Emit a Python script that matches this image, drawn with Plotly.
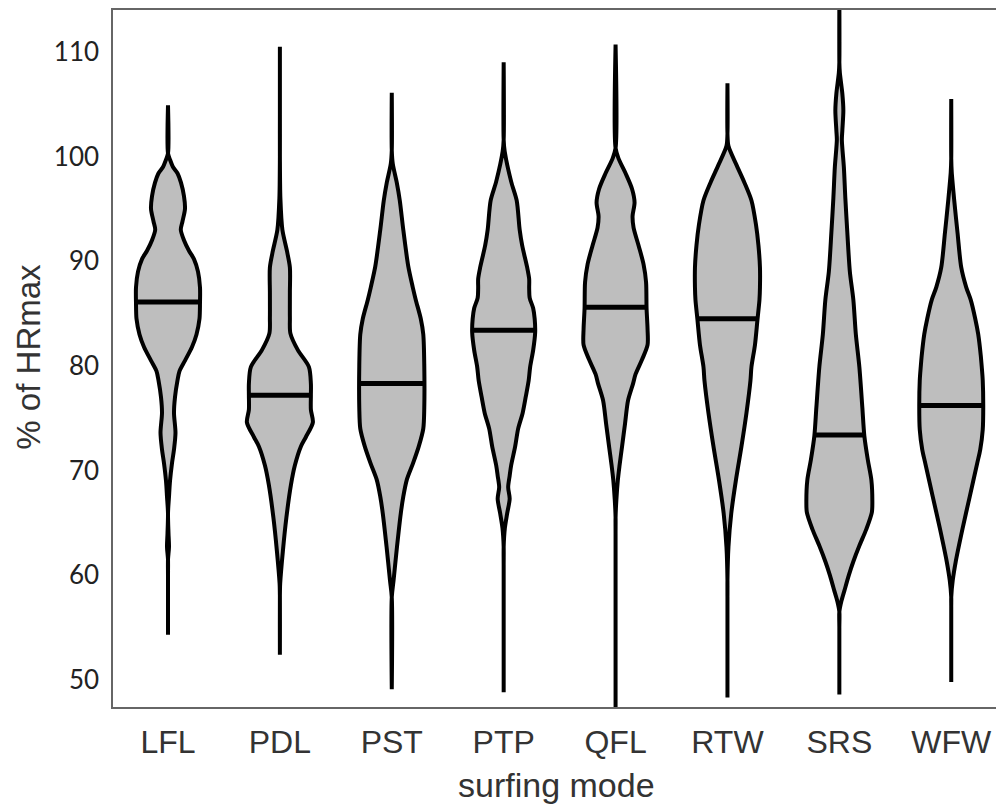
import numpy as np
import plotly.graph_objects as go

categories = ["LFL", "PDL", "PST", "PTP", "QFL", "RTW", "SRS", "WFW"]

# density profiles: levels (% of HRmax) and relative violin half-width
LFL_y = [54.3, 58.5, 60, 61.5, 62.7, 64, 65.9, 67.5, 69, 70.7, 72, 73.6, 75.5, 77, 78.6, 79.5, 80.5, 81.8, 83, 84.5, 86, 87.5, 89, 90.2, 91, 92, 93, 93.8, 95, 96.2, 97.5, 98.4, 99, 99.7, 100.3, 104.9]
LFL_d = [0, 0.5, 1, 2, 3, 2.5, 2, 3, 4, 6, 8, 9.5, 8, 9, 11.5, 13.5, 19, 26, 30.5, 33.5, 34, 34, 32, 28, 23, 18, 14.8, 16.5, 19, 18, 15, 11.5, 7, 4, 0.5, 0]

PDL_y = [52.4, 58, 59.2, 62.3, 65.5, 68.6, 70.5, 72.3, 73.2, 74.6, 75.8, 77.2, 78.3, 79.9, 81.5, 83.1, 84.6, 87, 89.4, 91, 93, 96, 100, 104, 110.5]
PDL_d = [0, 1, 2.3, 5, 8.5, 13, 17, 23, 28, 35, 33, 33, 33, 31, 20, 12.5, 12, 12, 12, 9, 4.5, 2.5, 2, 1.5, 0]

PST_y = [49.1, 57.9, 59.5, 62.7, 65.9, 67.5, 69.1, 70.7, 72.3, 74, 76, 80, 83, 84.5, 86.3, 87.5, 89.5, 93, 95.8, 97.5, 99.3, 100.6, 106.1]
PST_d = [0, 1, 3.8, 7.2, 11, 13.5, 17, 23.3, 29, 33.5, 34.5, 34.5, 33.5, 31, 26, 23, 18.5, 13.5, 10, 7, 3, 0.5, 0]

PTP_y = [48.8, 61, 62.7, 64.5, 65.9, 67.3, 68.4, 69.5, 70.5, 72.3, 74, 75.5, 77, 78.6, 79.9, 81.5, 83.2, 84.5, 85.5, 86.5, 87.4, 88.3, 89.4, 91.5, 93, 95.8, 97.6, 100.5, 101.6, 109]
PTP_d = [0, 0.5, 1.2, 3.2, 5.5, 8, 6.5, 8, 9.5, 13.5, 16.5, 21, 24, 27, 28.5, 31.5, 33.5, 33, 31.5, 28, 27.5, 27.5, 25.5, 20.5, 18, 15, 9.5, 3, 0.5, 0]

QFL_y = [46.5, 64, 65.5, 67.2, 69.1, 70.5, 72.3, 74.5, 76.7, 78.3, 79.2, 80.6, 82, 83.5, 85.5, 88, 89.7, 91.5, 93.2, 94.3, 95.6, 96.9, 98.4, 99.8, 100.8, 110.7]
QFL_d = [0, 0.5, 1.2, 2.8, 4.3, 6, 8.5, 11.5, 14.5, 19.5, 22, 28.5, 34, 34, 33, 32.5, 30, 25, 20, 19, 21, 18.5, 12, 5, 0.5, 0]

RTW_y = [48.3, 57.9, 59.5, 62.7, 65.9, 69.1, 72.3, 75.5, 78.6, 79.9, 82, 84.4, 86.3, 87.5, 89.4, 91.5, 93.5, 95.8, 97.5, 99.2, 101, 102.2, 107]
RTW_d = [0, 0.5, 1, 3, 5.8, 10.5, 16, 21, 25, 26, 29.5, 32, 34, 34.5, 34.5, 33, 30.5, 26, 19, 11, 3, 0.5, 0]

SRS_y = [48.6, 55, 56.5, 57.5, 58.5, 60, 61.3, 62.8, 64.4, 66, 67, 69.1, 71, 73.3, 76, 79.9, 83, 86.3, 89, 92.7, 96, 99, 101.6, 102.5, 104.4, 106, 108, 109, 115]
SRS_d = [0, 0.8, 2, 4, 7, 11.5, 16, 22, 29, 34.5, 35, 34, 30.5, 27, 25, 22, 18.5, 16, 12.5, 10, 8, 6.5, 4.5, 5, 6, 5, 2.5, 0.5, 0]

WFW_y = [49.8, 57, 57.9, 59.5, 61.3, 64.4, 67.5, 70.7, 72, 73.9, 76.1, 78.6, 79.9, 81, 83, 84.5, 86.3, 87.5, 89.4, 92.7, 95.8, 98.5, 99.8, 105.5]
WFW_d = [0, 0.5, 1.2, 3.5, 6.5, 13.2, 20.5, 28, 31, 33.5, 34, 33.5, 32.5, 31.5, 29, 26, 21.5, 17, 12, 8.3, 5, 2.5, 0.5, 0]

medians = [86.1, 77.2, 78.3, 83.4, 85.6, 84.5, 73.4, 76.2]

profiles = [(LFL_y, LFL_d), (PDL_y, PDL_d), (PST_y, PST_d), (PTP_y, PTP_d),
            (QFL_y, QFL_d), (RTW_y, RTW_d), (SRS_y, SRS_d), (WFW_y, WFW_d)]

UNIT = 111.9          # pixels per category step
STROKE = 4
FILL = "rgb(190,190,190)"

fig = go.Figure()
for i, (name, (ys, ds), med) in enumerate(zip(categories, profiles, medians)):
    ys = np.array(ys, dtype=float)
    hw = np.clip(np.array(ds, dtype=float) - STROKE / 2, 0, None) / UNIT
    xs = np.concatenate([i + hw, (i - hw)[::-1]])
    yy = np.concatenate([ys, ys[::-1]])
    fig.add_trace(go.Scatter(
        x=xs, y=yy, mode="lines", fill="toself", fillcolor=FILL,
        line=dict(color="black", width=STROKE, shape="spline", smoothing=0.8),
        hoverinfo="skip", showlegend=False, name=name))
    mw = np.interp(med, ys, hw) + 0.8 / UNIT
    fig.add_trace(go.Scatter(
        x=[i - mw, i + mw], y=[med, med], mode="lines",
        line=dict(color="black", width=5), hoverinfo="skip", showlegend=False))

fig.update_layout(
    width=996, height=807,
    margin=dict(l=113, r=0, t=10, b=100),
    plot_bgcolor="white", paper_bgcolor="white",
    xaxis=dict(range=[-0.4915, 7.40], tickvals=list(range(len(categories))),
               ticktext=categories, showgrid=False, zeroline=False,
               showline=True, linecolor="#666666", linewidth=1.5, mirror=True,
               ticks="", ticklabelstandoff=6,
               tickfont=dict(family="Liberation Sans, Arial", size=32, color="#333333")),
    yaxis=dict(range=[47.4, 114.0], tickvals=[50, 60, 70, 80, 90, 100, 110],
               showgrid=False, zeroline=False,
               showline=True, linecolor="#666666", linewidth=1.5,
               ticks="", ticklabelstandoff=7,
               tickfont=dict(family="Lato", size=26, color="#222222")),
    annotations=[
        dict(text="% of HRmax", xref="paper", yref="paper", x=-0.096, y=0.503,
             xanchor="center", yanchor="middle", textangle=-90, showarrow=False,
             font=dict(family="Liberation Sans, Arial", size=33, color="#333333")),
        dict(text="surfing mode", xref="paper", yref="paper", x=0.502, y=-0.112,
             xanchor="center", yanchor="middle", showarrow=False,
             font=dict(family="Liberation Sans, Arial", size=34, color="#333333")),
    ],
)

fig.write_html("out.html", config={"displayModeBar": False},
               post_script="document.body.style.margin='0';document.body.style.overflow='hidden';")
